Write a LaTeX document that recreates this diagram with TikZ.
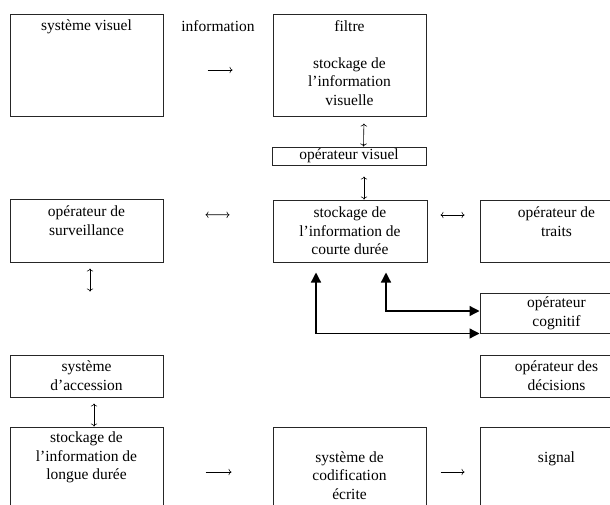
\documentclass[tikz,border=0pt]{standalone}
\usepackage{fontspec}
\setmainfont{Liberation Serif}
\usetikzlibrary{arrows.meta,positioning}

\tikzset{
  boite/.style={draw=black!85, line width=1pt, inner sep=0pt},
  texte/.style={align=center, inner sep=0pt},
  fleche/.style={line width=0.6pt},
  epaisse/.style={line width=1.3pt,
    {Triangle[length=10pt,width=10pt]}-{Triangle[length=10pt,width=10pt]}}
}

\begin{document}
\begin{tikzpicture}[x=1pt,y=-1pt,>={To[length=3pt,width=6.5pt]},
  every node/.style={font=\fontsize{15.5}{18.5}\selectfont}]
		\useasboundingbox (0,0) rectangle (610,504);
		\clip (0,0) rectangle (610,504);
		%
		\node[boite, minimum width=153pt, minimum height=102pt] (vis) at (86.5,65) {};
		\node[boite, minimum width=153pt, minimum height=102pt] (filt) at (349.5,65) {};
		\node[boite, minimum width=154pt, minimum height=18pt] (opvis) at (349,156) {};
		\node[boite, minimum width=153pt, minimum height=63pt] (surv) at (86.5,230.5) {};
		\node[boite, minimum width=154pt, minimum height=62pt] (court) at (350,231) {};
		\node[boite, minimum width=153pt, minimum height=62pt] (traits) at (556.5,231) {};
		\node[boite, minimum width=153pt, minimum height=40pt] (cog) at (556.5,313) {};
		\node[boite, minimum width=153pt, minimum height=42pt] (acc) at (86.5,376) {};
		\node[boite, minimum width=153pt, minimum height=42pt] (dec) at (556.5,376) {};
		\node[boite, minimum width=153pt, minimum height=100pt] (long) at (86.5,477) {};
		\node[boite, minimum width=153pt, minimum height=100pt] (codif) at (349.5,477) {};
		\node[boite, minimum width=153pt, minimum height=100pt] (signal) at (556.5,477) {};
		%
		\node[texte, below=6.5pt of vis.north] (visT) {système visuel};
		\node[texte, below=6.5pt of filt.north] (filtT) {filtre\\[18.5pt]stockage de\\l'information\\visuelle};
		\node[texte] (opvisT) at (opvis) {opérateur visuel};
		\node[texte, below=7.5pt of surv.north] (survT) {opérateur de\\surveillance};
		\node[texte, below=7.5pt of court.north] (courtT) {stockage de\\l'information de\\courte durée};
		\node[texte, below=7.5pt of traits.north] (traitsT) {opérateur de\\traits};
		\node[texte, below=4.5pt of cog.north] (cogT) {opérateur\\cognitif};
		\node[texte, below=6.5pt of acc.north] (accT) {système\\d'accession};
		\node[texte, below=6.5pt of dec.north] (decT) {opérateur des\\décisions};
		\node[texte, below=5.5pt of long.north] (longT) {stockage de\\l'information de\\longue durée};
		\node[texte, below=25pt of codif.north] (codifT) {système de\\codification\\écrite};
		\node[texte, below=25pt of signal.north] (signalT) {signal};
		\node[texte] (info) at (218,26) {information};
		%
		\path[fleche]
		([yshift=-5pt]vis.east) edge[->, shorten <=44pt, shorten >=40pt] ([yshift=-5pt]filt.west)
		([xshift=14.5pt]filt.south) edge[<->, shorten <=7pt] ([xshift=14.5pt]opvis.north)
		([xshift=15pt]opvis.south) edge[<->, shorten <=11pt] ([xshift=14pt]court.north)
		([yshift=16pt]surv.east) edge[<->, shorten <=42pt, shorten >=43pt] ([yshift=16pt]court.west)
		([yshift=16pt]court.east) edge[<->, shorten <=13pt, shorten >=15pt] ([yshift=16pt]traits.west)
		([xshift=3.5pt]surv.south) edge[<->, shorten <=6pt, shorten >=63pt] ([xshift=3.5pt]acc.north)
		([xshift=7.5pt]acc.south) edge[<->, shorten <=6pt] ([xshift=7.5pt]long.north)
		([yshift=5pt]long.east) edge[->, shorten <=42pt, shorten >=41pt] ([yshift=5pt]codif.west)
		([yshift=5pt]codif.east) edge[->, shorten <=14pt, shorten >=15pt] ([yshift=5pt]signal.west);
		%
		\draw[epaisse, shorten <=10pt] ([xshift=-34pt]court.south) |- (cog.south west);
		\draw[epaisse, shorten <=10pt] ([xshift=36pt]court.south) |- ([yshift=2pt]cog.west);
\end{tikzpicture}
\end{document}
